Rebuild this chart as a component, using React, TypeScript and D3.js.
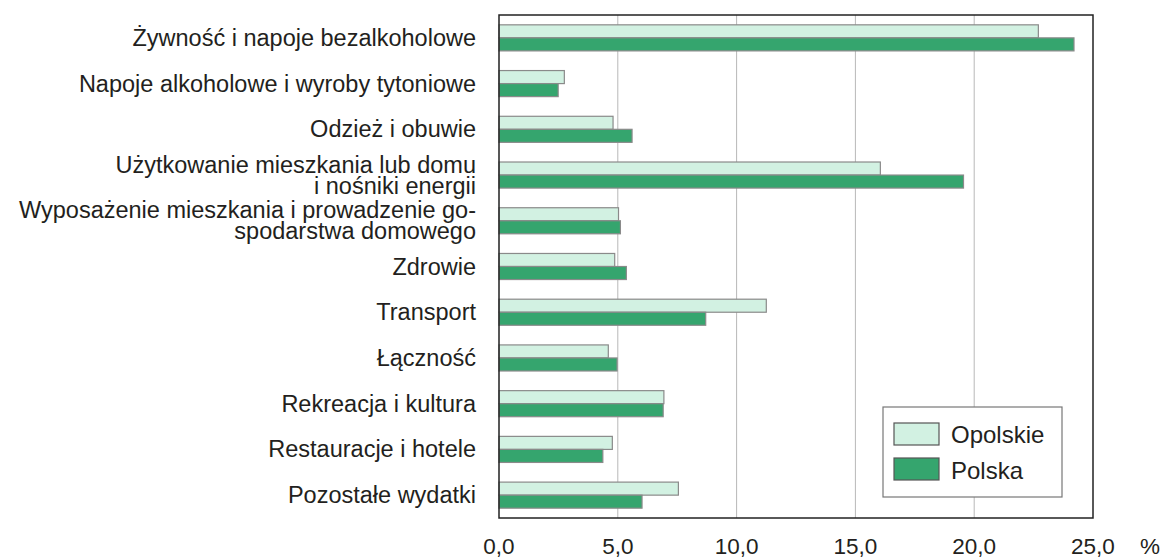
import { useEffect, useRef } from "react";
import * as d3 from "d3";

const categories = [
    ["Żywność i napoje bezalkoholowe"],
    ["Napoje alkoholowe i wyroby tytoniowe"],
    ["Odzież i obuwie"],
    ["Użytkowanie mieszkania lub domu", "i nośniki energii"],
    ["Wyposażenie mieszkania i prowadzenie go-", "spodarstwa domowego"],
    ["Zdrowie"],
    ["Transport"],
    ["Łączność"],
    ["Rekreacja i kultura"],
    ["Restauracje i hotele"],
    ["Pozostałe wydatki"],
];

const seriesNames = ["Opolskie", "Polska"];
const opolskie = [22.7, 2.75, 4.8, 16.05, 5.03, 4.87, 11.25, 4.6, 6.94, 4.77, 7.55];
const polska = [24.2, 2.49, 5.6, 19.55, 5.11, 5.36, 8.7, 4.97, 6.91, 4.37, 6.02];
const xTicks = [0, 5, 10, 15, 20, 25];

const W = 1164;
const H = 559;
const FONT = "'Liberation Sans', Arial, sans-serif";

const App = () => {
    const svgRef = useRef<SVGSVGElement>(null);

    useEffect(() => {
        if (!svgRef.current) return;
        const svg = d3.select(svgRef.current);
        svg.selectAll("*").remove();

        const margin = { top: 15, right: 71, bottom: 41, left: 499 };
        const innerW = W - margin.left - margin.right;
        const innerH = H - margin.top - margin.bottom;

        const x = d3.scaleLinear().domain([0, 25]).range([0, innerW]);
        const keys = categories.map((c) => c.join(" "));
        const y = d3.scaleBand().domain(keys).range([0, innerH]).paddingInner(0.43).paddingOuter(0.215);
        const ySub = d3.scaleBand().domain(seriesNames).range([0, y.bandwidth()]);
        const color = d3.scaleOrdinal<string, string>().domain(seriesNames).range(["#d2f1e2", "#35a56e"]);

        const g = svg.append("g").attr("transform", `translate(${margin.left},${margin.top})`);

        // grid lines
        g.selectAll(".grid")
            .data(xTicks.slice(1, -1))
            .enter()
            .append("line")
            .attr("x1", (d) => x(d))
            .attr("x2", (d) => x(d))
            .attr("y1", 0)
            .attr("y2", innerH)
            .attr("stroke", "#b8b8b8")
            .attr("stroke-width", 1);

        // bars
        const rows = keys.map((k, i) => ({ key: k, values: [opolskie[i], polska[i]] }));
        const rowG = g.selectAll(".row")
            .data(rows)
            .enter()
            .append("g")
            .attr("transform", (d) => `translate(0,${y(d.key)})`);

        rowG.selectAll("rect")
            .data((d) => d.values.map((v, j) => ({ name: seriesNames[j], value: v })))
            .enter()
            .append("rect")
            .attr("x", x(0))
            .attr("y", (d) => ySub(d.name)!)
            .attr("width", (d) => x(d.value) - x(0))
            .attr("height", ySub.bandwidth())
            .attr("fill", (d) => color(d.name))
            .attr("stroke", "#8a8a8a")
            .attr("stroke-width", 1.2);

        // frame
        g.append("rect")
            .attr("x", 0)
            .attr("y", 0)
            .attr("width", innerW)
            .attr("height", innerH)
            .attr("fill", "none")
            .attr("stroke", "#222")
            .attr("stroke-width", 1.5);

        // category labels (multi-line ones as separate texts)
        categories.forEach((lines, i) => {
            const cy = y(keys[i])! + y.bandwidth() / 2;
            lines.forEach((line, j) => {
                g.append("text")
                    .attr("x", -23)
                    .attr("y", cy + (j - (lines.length - 1) / 2) * 21)
                    .attr("text-anchor", "end")
                    .attr("dominant-baseline", "central")
                    .attr("font-family", FONT)
                    .attr("font-size", 23.5)
                    .attr("fill", "#231f20")
                    .text(line);
            });
        });

        // x tick labels
        g.selectAll(".xtick")
            .data(xTicks)
            .enter()
            .append("text")
            .attr("x", (d) => x(d))
            .attr("y", innerH + 28)
            .attr("text-anchor", "middle")
            .attr("dominant-baseline", "central")
            .attr("font-family", FONT)
            .attr("font-size", 22.5)
            .attr("fill", "#231f20")
            .text((d) => d3.format(".1f")(d).replace(".", ","));

        g.append("text")
            .attr("x", innerW + 57)
            .attr("y", innerH + 28)
            .attr("text-anchor", "middle")
            .attr("dominant-baseline", "central")
            .attr("font-family", FONT)
            .attr("font-size", 22.5)
            .attr("fill", "#231f20")
            .text("%");

        // legend
        const lg = svg.append("g").attr("transform", "translate(883,407)");
        lg.append("rect")
            .attr("width", 179)
            .attr("height", 90)
            .attr("fill", "#fff")
            .attr("stroke", "#777")
            .attr("stroke-width", 1.2);
        seriesNames.forEach((name, i) => {
            lg.append("rect")
                .attr("x", 11)
                .attr("y", 16 + i * 35)
                .attr("width", 45)
                .attr("height", 22)
                .attr("fill", color(name))
                .attr("stroke", "#555")
                .attr("stroke-width", 1.2);
            lg.append("text")
                .attr("x", 68)
                .attr("y", 27 + i * 36)
                .attr("dominant-baseline", "central")
                .attr("font-family", FONT)
                .attr("font-size", 24)
                .attr("fill", "#231f20")
                .text(name);
        });
    }, []);

    return (
        <svg
            ref={svgRef}
            width={W}
            height={H}
            style={{ position: "absolute", left: 0, top: 0, background: "#fff" }}
        />
    );
};

export default App;
